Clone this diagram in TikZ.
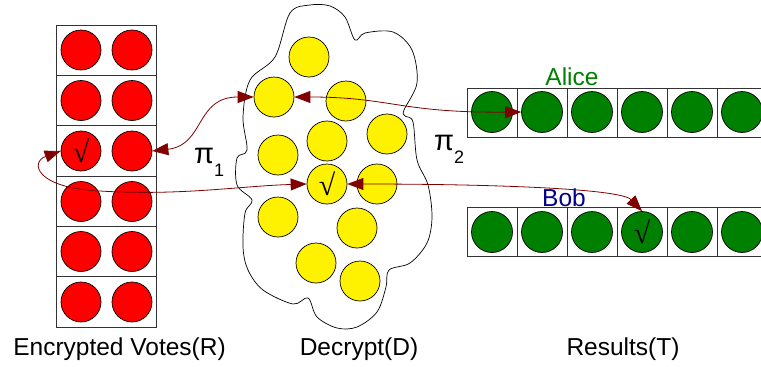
\documentclass[tikz,border=0pt]{standalone}
\usepackage{fontspec}
\setmainfont{Liberation Sans}
\newfontfamily\serifsym{Liberation Serif}
\usetikzlibrary{arrows.meta}
\definecolor{arrowred}{RGB}{128,0,0}
\definecolor{votegreen}{RGB}{0,128,0}
\definecolor{namegreen}{RGB}{0,128,0}
\definecolor{nameblue}{RGB}{0,0,140}
\newcommand{\chk}{{\serifsym\fontsize{30}{30}\selectfont √}}
\newcommand{\subidx}[1]{\raisebox{-13pt}{\fontsize{18}{18}\selectfont #1}}
\tikzset{
  disc/.style={circle, draw=black, line width=0.7pt, minimum size=40pt, inner sep=0pt},
  redc/.style={disc, fill=red},
  yelc/.style={disc, fill=yellow},
  grnc/.style={disc, fill=votegreen, minimum size=41pt},
  cellline/.style={draw=black!80, line width=0.8pt},
  cloudline/.style={draw=black, line width=0.7pt},
  conn/.style={draw=arrowred, line width=0.8pt,
    {Triangle[length=16pt,width=12pt]}-{Triangle[length=16pt,width=12pt]}},
  caption/.style={font=\fontsize{24.5}{28}\selectfont, anchor=base, inner sep=0pt},
  piname/.style={font=\fontsize{29}{30}\selectfont, anchor=base west, inner sep=0pt},
}
\begin{document}
\begin{tikzpicture}[x=1pt,y=-1pt]
\useasboundingbox (0,0) rectangle (761,367);
\clip (0,0) rectangle (761,367);
\fill[white] (0,0) rectangle (761,367);

% encrypted votes: one column of six cells, two discs each
\draw[cellline] (56,25) rectangle (156,327);
\foreach \yy in {75.3,125.7,176,226.3,276.7} \draw[cellline] (56,\yy) -- (156,\yy);
\node[redc] (r1a) at (81,50) {};    \node[redc] (r1b) at (132,50) {};
\node[redc] (r2a) at (81,100.5) {}; \node[redc] (r2b) at (132,100.5) {};
\node[redc] (r3a) at (81,151) {\chk}; \node[redc] (r3b) at (132,151) {};
\node[redc] (r4a) at (81,201.5) {}; \node[redc] (r4b) at (132,201.5) {};
\node[redc] (r5a) at (81,251.5) {}; \node[redc] (r5b) at (132,251.5) {};
\node[redc] (r6a) at (81,302) {};   \node[redc] (r6b) at (132,302) {};

% decryption cloud
\draw[cloudline, fill=white] plot[smooth cycle, tension=0.55] coordinates {
  (290,13) (310,5) (330,6) (345,17) (355,40) (365,33) (393,32) (412,50)
  (417,83) (404,110) (405,116) (413,122) (417,160) (428,185) (432,217)
  (427,243) (410,263) (389,270) (386,287) (377,312) (357,327) (337,328)
  (317,317) (308,298) (293,304) (263,290) (248,270) (243,247) (245,213)
  (252,200) (237,185) (237,158) (247,150) (243,117) (250,80) (275,57)};
\node[yelc] (y1) at (309,57) {};
\node[yelc] (y2) at (274,97) {};
\node[yelc] (y3) at (346,101) {};
\node[yelc] (y4) at (327,141) {};
\node[yelc] (y5) at (387,134) {};
\node[yelc] (y6) at (278,155) {};
\node[yelc] (y7) at (327,184) {\chk};
\node[yelc] (y8) at (377,184) {};
\node[yelc] (y9) at (278,217) {};
\node[yelc] (y10) at (357,228) {};
\node[yelc] (y11) at (316,263) {};
\node[yelc] (y12) at (360,281) {};

% results: two rows of six cells
\draw[cellline] (467,88) rectangle (767,137);
\draw[cellline] (467,207) rectangle (767,256);
\foreach \xx in {517,567,617,667,717} {
  \draw[cellline] (\xx,88) -- (\xx,137);
  \draw[cellline] (\xx,207) -- (\xx,256);
}
\foreach \i/\xx in {1/492,2/542,3/592,4/642,5/692,6/742}
  \node[grnc] (a\i) at (\xx,112) {};
\foreach \i/\xx in {1/492,2/542,3/592,5/692,6/742}
  \node[grnc] (b\i) at (\xx,232) {};
\node[grnc] (b4) at (642,232) {\chk};

\node[caption, text=namegreen] (alice) at (572,85) {Alice};
\node[caption, text=nameblue] (bob) at (564,206) {Bob};

% permutation links
\draw[conn] (r3b.east) .. controls (205,145) and (195,97) .. (y2.west);
\draw[conn] (y2.east) .. controls (390,97) and (400,113) .. (a2.west);
\draw[conn] (r3a.west) .. controls (30,162) and (35,188) .. (100,191)
  .. controls (180,196) and (240,186) .. (y7.west);
\draw[conn] (y7.east) .. controls (480,184) and (620,188) .. (b4.north);

\node[piname] (pi1) at (194,163) {π\subidx{1}};
\node[piname] (pi2) at (434,150) {π\subidx{2}};

% captions
\node[caption] (capR) at (119.5,355) {Encrypted Votes(R)};
\node[caption] (capD) at (359,355) {Decrypt(D)};
\node[caption] (capT) at (623,355) {Results(T)};
\end{tikzpicture}
\end{document}
